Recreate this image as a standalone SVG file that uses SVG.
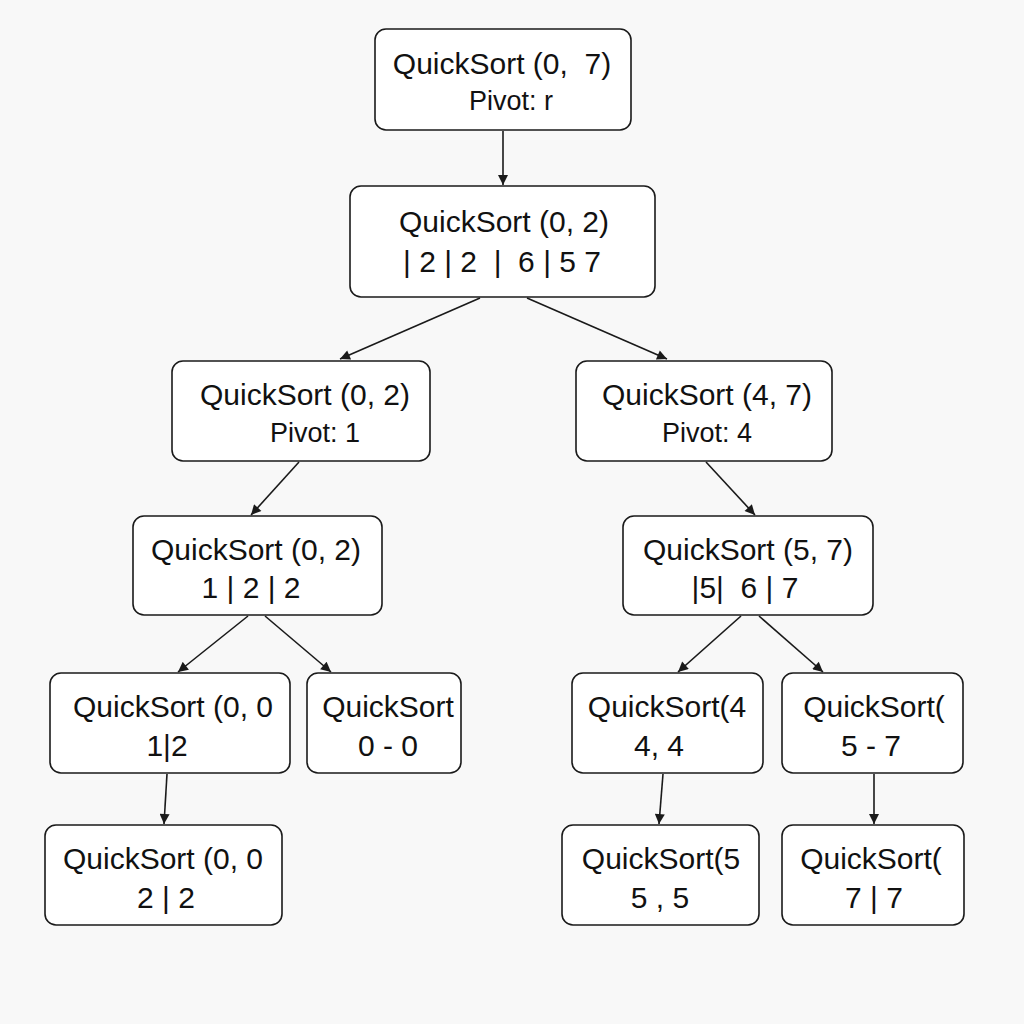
<svg xmlns="http://www.w3.org/2000/svg" width="1024" height="1024" viewBox="0 0 1024 1024" xml:space="preserve">
<defs>
<style>
.bg{fill:#f8f8f8}
.box{fill:#ffffff;stroke:#1a1a1a;stroke-width:1.6}
.t{font-family:"Liberation Sans",Arial,sans-serif;font-size:30px;fill:#111;text-anchor:middle;white-space:pre}
.s{font-family:"Liberation Sans",Arial,sans-serif;font-size:27px;fill:#111;text-anchor:middle;white-space:pre}
.c{stroke:#1a1a1a;stroke-width:1.6;fill:none;marker-end:url(#ah)}
</style>
<marker id="ah" viewBox="0 0 10 10" refX="10" refY="5" markerWidth="11" markerHeight="10" markerUnits="userSpaceOnUse" orient="auto">
<path d="M0,0 L10,5 L0,10 z" fill="#1a1a1a"/>
</marker>
</defs>
<rect class="bg" x="0" y="0" width="1024" height="1024"/>
<g id="connectors">
<line class="c" x1="503" y1="131" x2="503" y2="185"/>
<line class="c" x1="480" y1="298" x2="340" y2="359"/>
<line class="c" x1="527" y1="298" x2="667" y2="359"/>
<line class="c" x1="299" y1="462" x2="251" y2="515"/>
<line class="c" x1="706" y1="462" x2="755" y2="515"/>
<line class="c" x1="248" y1="616" x2="178" y2="672"/>
<line class="c" x1="265" y1="616" x2="331" y2="672"/>
<line class="c" x1="741" y1="616" x2="678" y2="672"/>
<line class="c" x1="759" y1="616" x2="823" y2="672"/>
<line class="c" x1="167" y1="774" x2="164" y2="824"/>
<line class="c" x1="663" y1="774" x2="659" y2="824"/>
<line class="c" x1="874" y1="774" x2="874" y2="824"/>
</g>
<g id="n1"><rect class="box" x="375" y="29" width="256" height="101" rx="11"/>
<text class="t" x="502" y="74">QuickSort (0,  7)</text><text class="s" x="511" y="110">Pivot: r</text></g>
<g id="n2"><rect class="box" x="350" y="186" width="305" height="111" rx="11"/>
<text class="t" x="504" y="232">QuickSort (0, 2)</text><text class="t" x="502" y="272">| 2 | 2  |  6 | 5 7</text></g>
<g id="n3"><rect class="box" x="172" y="361" width="258" height="100" rx="11"/>
<text class="t" x="305" y="405">QuickSort (0, 2)</text><text class="s" x="315" y="442">Pivot: 1</text></g>
<g id="n4"><rect class="box" x="576" y="361" width="256" height="100" rx="11"/>
<text class="t" x="707" y="405">QuickSort (4, 7)</text><text class="s" x="707" y="442">Pivot: 4</text></g>
<g id="n5"><rect class="box" x="133" y="516" width="249" height="99" rx="11"/>
<text class="t" x="256" y="560">QuickSort (0, 2)</text><text class="t" x="251" y="598">1 | 2 | 2</text></g>
<g id="n6"><rect class="box" x="623" y="516" width="250" height="99" rx="11"/>
<text class="t" x="748" y="560">QuickSort (5, 7)</text><text class="t" x="745" y="598">|5|  6 | 7</text></g>
<g id="n7"><rect class="box" x="50" y="673" width="240" height="100" rx="11"/>
<text class="t" x="173" y="717">QuickSort (0, 0</text><text class="t" x="167" y="756">1|2</text></g>
<g id="n8"><rect class="box" x="307" y="673" width="154" height="100" rx="11"/>
<text class="t" x="388" y="717">QuickSort</text><text class="t" x="388" y="756">0 - 0</text></g>
<g id="n9"><rect class="box" x="572" y="673" width="191" height="100" rx="11"/>
<text class="t" x="667" y="717">QuickSort(4</text><text class="t" x="659" y="756">4, 4</text></g>
<g id="n10"><rect class="box" x="782" y="673" width="181" height="100" rx="11"/>
<text class="t" x="874" y="717">QuickSort(</text><text class="t" x="871" y="756">5 - 7</text></g>
<g id="n11"><rect class="box" x="45" y="825" width="237" height="100" rx="11"/>
<text class="t" x="163" y="869">QuickSort (0, 0</text><text class="t" x="166" y="908">2 | 2</text></g>
<g id="n12"><rect class="box" x="562" y="825" width="197" height="100" rx="11"/>
<text class="t" x="661" y="869">QuickSort(5</text><text class="t" x="660" y="908">5 , 5</text></g>
<g id="n13"><rect class="box" x="782" y="825" width="182" height="100" rx="11"/>
<text class="t" x="871" y="869">QuickSort(</text><text class="t" x="874" y="908">7 | 7</text></g>
</svg>
